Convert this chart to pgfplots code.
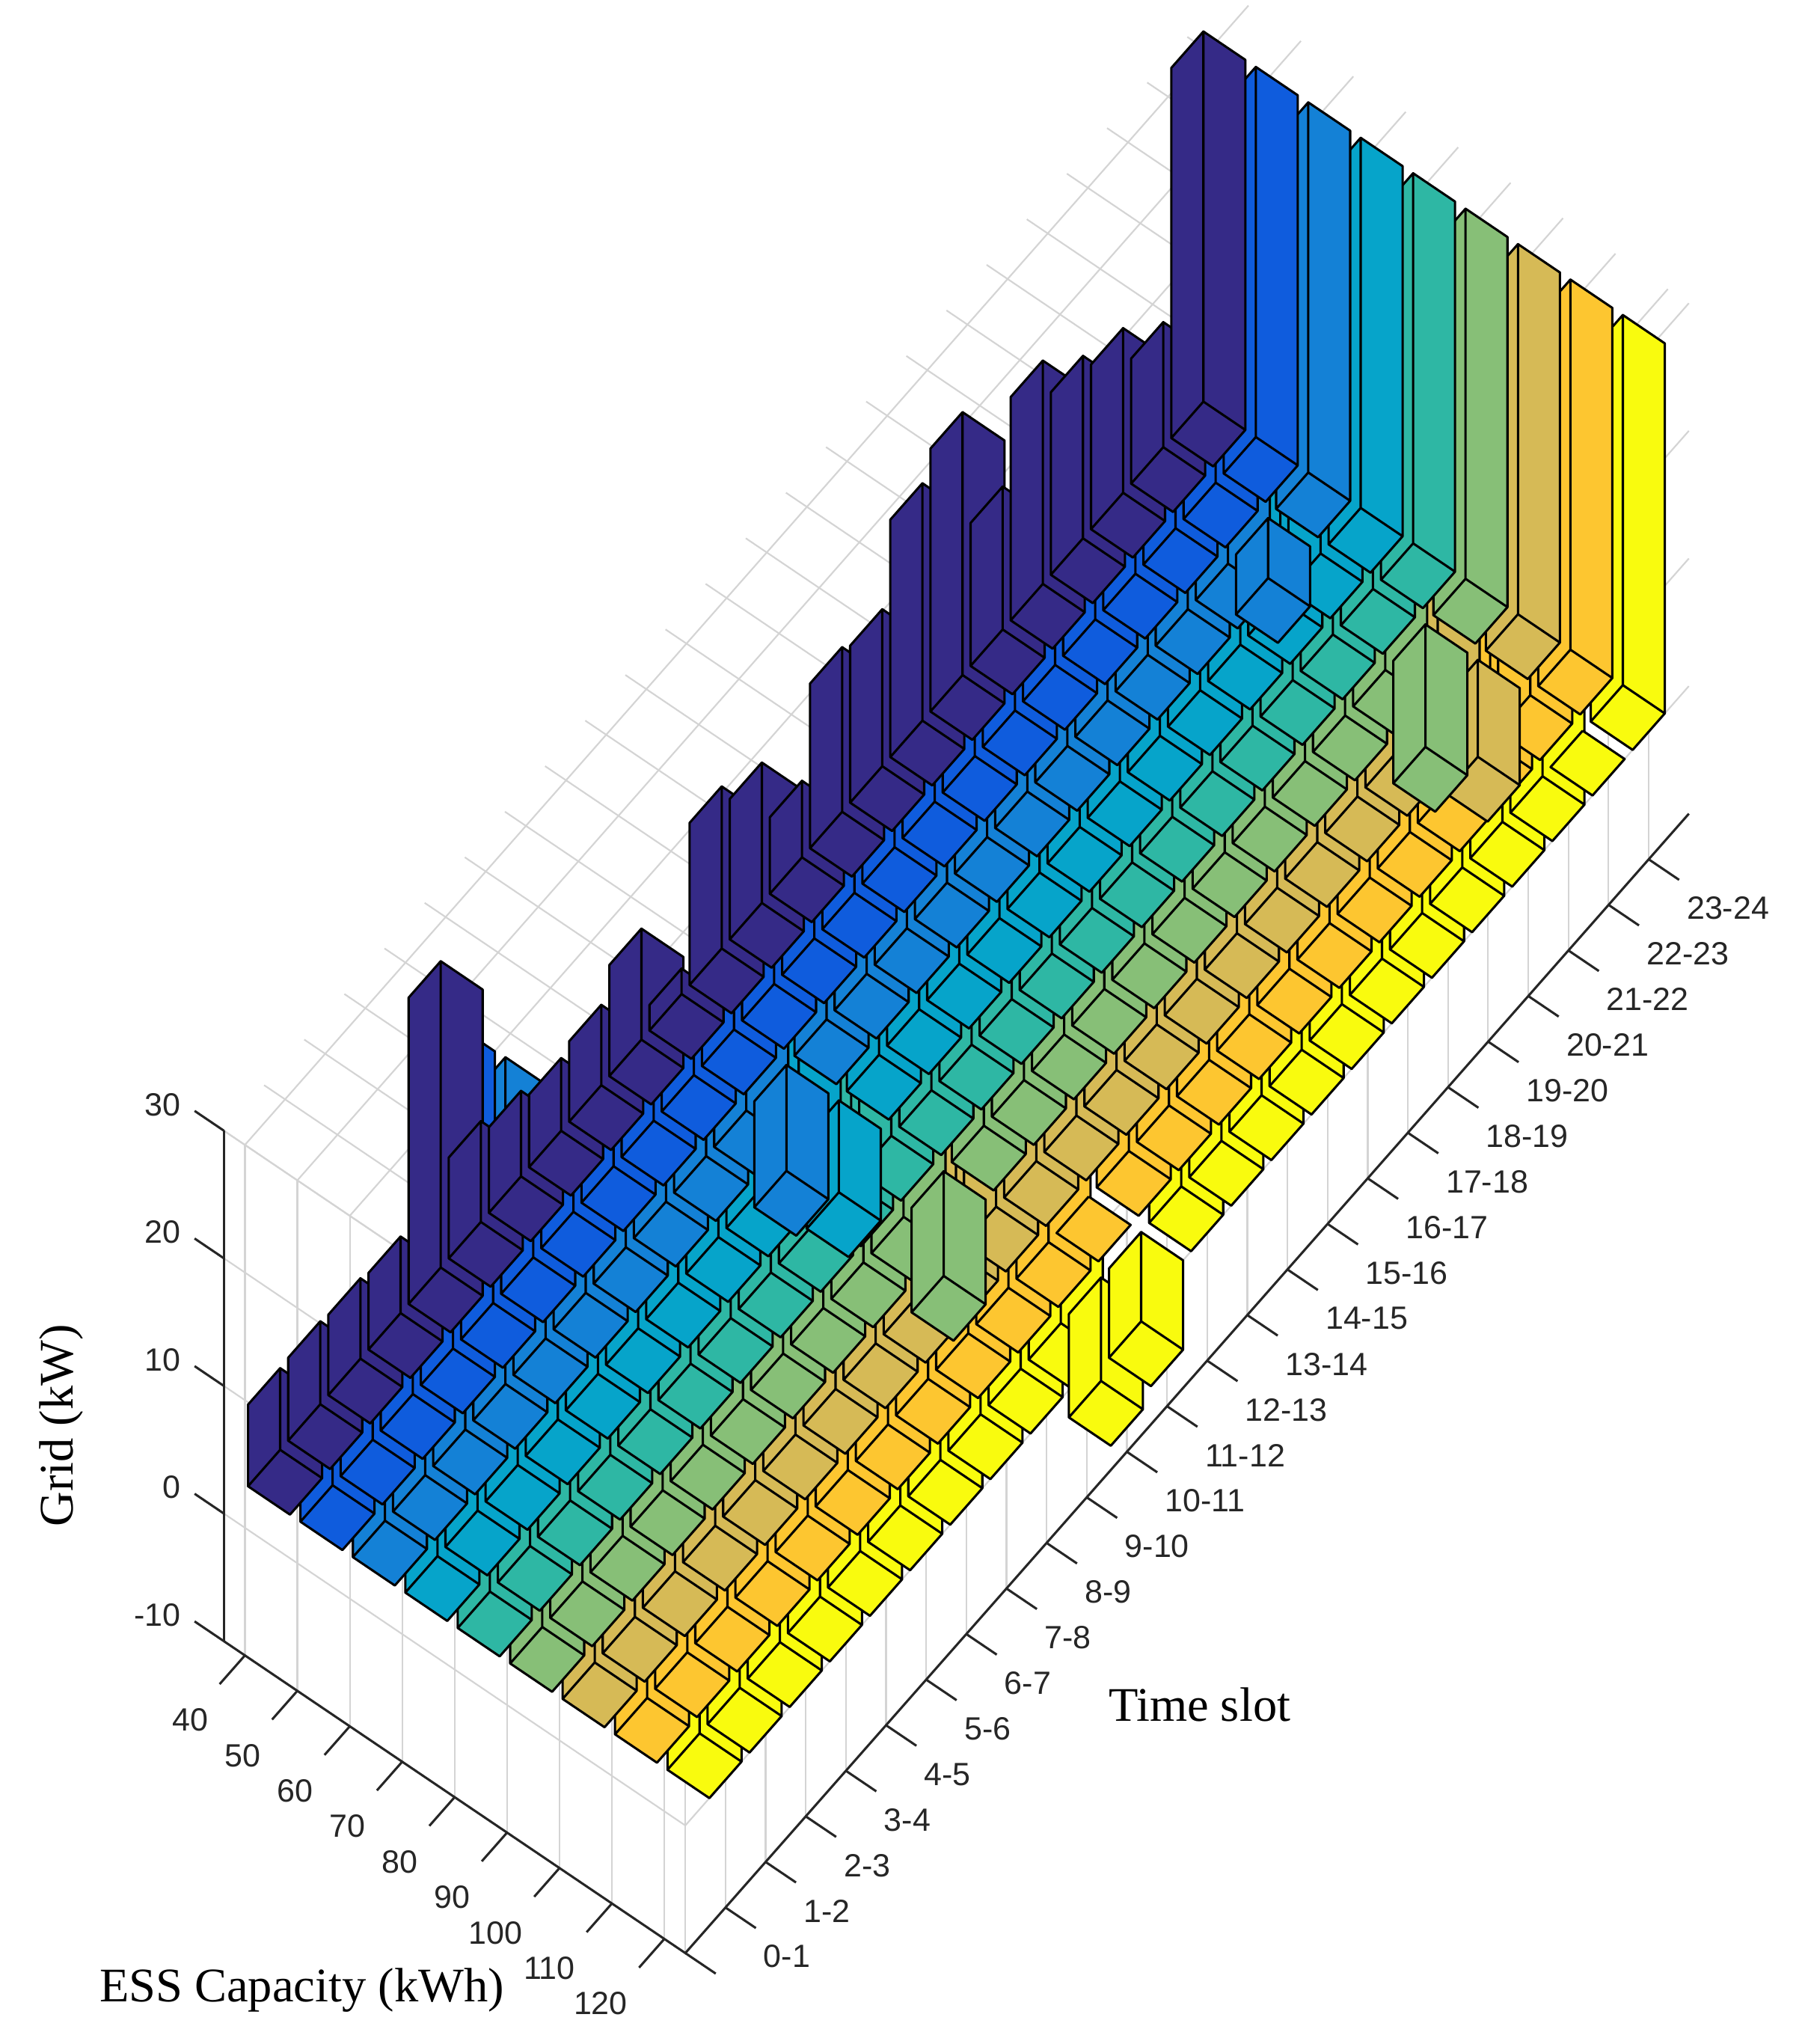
\documentclass[border=0pt]{standalone}
\usepackage{fontspec}
\setmainfont{Liberation Serif}
\newfontfamily\arialf{Liberation Sans}
\usepackage{pgfplots}
\usepackage{pgfplotstable}
\pgfplotsset{compat=1.18}
\usetikzlibrary{calc}

\definecolor{bc1}{RGB}{53,42,135}
\definecolor{bc2}{RGB}{15,92,221}
\definecolor{bc3}{RGB}{20,129,214}
\definecolor{bc4}{RGB}{6,164,202}
\definecolor{bc5}{RGB}{46,183,164}
\definecolor{bc6}{RGB}{135,191,119}
\definecolor{bc7}{RGB}{214,186,86}
\definecolor{bc8}{RGB}{253,198,48}
\definecolor{bc9}{RGB}{249,251,14}
\definecolor{axisgray}{RGB}{38,38,38}

% rows: time slot j (1 = 0-1 ... 24 = 23-24); columns: ESS capacity 40 ... 120 kWh
\pgfplotstableread{
j  c1   c2   c3   c4   c5   c6   c7   c8   c9
1  6.4  6    10   10   10   10   10   10   10
2  6.5  6    10   10   10   10   10   10   10
3  6.3  6    10   10   10   10   10   10   10
4  6.0  25.5 25.6 10   10   10   10   10   10
5  24.0 8    10   10   10   10   10   10   10
6  7.9  6    10   10   10   10   10   10   10
7  6.7  6    10   10   10   10   10   10   10
8  5.7  6    10   10   10   10   10   10   10
9  6.3  6    10   10   10   10   10   10   10
10 8.7  5    10   10   10   10   10   10   8.0
11 2.0  6    -8.3 -7.2 10   -8.2 10   10   -8.1
12 12.7 10   10   10   10   10   10   0    -7.0
13 11.0 8    10   10   10   10   10   10   10
14 6.0  10   10   10   10   10   10   10   10
15 12.9 10   10   10   10   10   10   10   10
16 12.3 12   10   10   10   10   10   10   10
17 18.6 14   10   10   10   10   10   10   10
18 20.6 12   10   10   10   10   10   10   10
19 11.2 12   10   10   10   10   10   10   10
20 17.5 12   10   10   10   10   10   10   10
21 14.3 10   10   10   10   10   10   10   10
22 12.9 8    10   10   10   10   10   10   10
23 9.8  10   -4.7 10   10   -9.6 -7.6 10   0
24 29.0 29.0 29.0 29.0 29.0 29.0 29.0 29.0 29.0
}\gridtable

\pgfplotsset{bar face/.style={draw=black, line width=0.5pt, line join=round,
  unbounded coords=jump, mark=none, forget plot}}

% one bar: #1 = capacity index, #2 = time-slot index, #3 = value
% (the time axis is stored mirrored, y = 25 - slot, so that the view is from below as in the original)
\newcommand\drawbar[3]{%
  \pgfmathsetmacro\xa{#1-0.4}%
  \pgfmathsetmacro\xb{#1+0.4}%
  \pgfmathsetmacro\yc{25-#2}%
  \pgfmathsetmacro\ya{\yc-0.4}%
  \pgfmathsetmacro\yb{\yc+0.4}%
  \pgfmathsetmacro\za{min(0,#3)}%
  \pgfmathsetmacro\zb{max(0,#3)}%
  \edef\tmp{\noexpand\addplot3[bar face, fill=bc#1] coordinates {%
    (\xa,\ya,\za) (\xb,\ya,\za) (\xb,\yb,\za) (\xa,\yb,\za) (\xa,\ya,\za) (nan,nan,nan)
    (\xa,\ya,\za) (\xa,\yb,\za) (\xa,\yb,\zb) (\xa,\ya,\zb) (\xa,\ya,\za) (nan,nan,nan)
    (\xa,\ya,\za) (\xb,\ya,\za) (\xb,\ya,\zb) (\xa,\ya,\zb) (\xa,\ya,\za)};}%
  \tmp
}

\tikzset{axisln/.style={draw=axisgray, line width=0.5pt}}

\begin{document}
\begin{tikzpicture}
\begin{axis}[
  x={(0.401cm,-0.271cm)}, y={(-0.307cm,-0.3485cm)}, z={(0cm,0.0976cm)},
  xmin=0.6, xmax=9.4, ymin=0, ymax=25, zmin=-10, zmax=30,
  clip=false,
  xtick={1,...,9}, xticklabels={40,50,60,70,80,90,100,110,120},
  ytick={1,...,25},
  yticklabels={{},23-24,22-23,21-22,20-21,19-20,18-19,17-18,16-17,15-16,14-15,13-14,12-13,11-12,10-11,9-10,8-9,7-8,6-7,5-6,4-5,3-4,2-3,1-2,0-1},
  ztick={-10,0,10,20,30},
  xtick pos=left, ytick pos=left, ztick pos=left,
  grid=major, grid style={draw=black!17, line width=0.35pt},
  axis line style={draw=none},
  tick align=outside, major tick length=0.28cm,
  tick style={draw=none},
  tick label style={font=\arialf\fontsize{7}{8}\selectfont, text=axisgray, inner sep=0pt},
  /pgf/number format/assume math mode=true,
  xticklabel style={anchor=north east, xshift=-0.09cm, yshift=-0.19cm},
  yticklabel style={anchor=west, xshift=0.36cm, yshift=0.13cm},
  zticklabel style={anchor=east, xshift=-0.14cm, yshift=0.41cm},
  xlabel={ESS Capacity (kWh)}, ylabel={Time slot}, zlabel={Grid (kW)},
  every axis x label/.style={at={(axis cs:5.21,29.08,-10)}, anchor=center, font=\fontsize{10.5}{12}\selectfont},
  every axis y label/.style={at={(axis cs:12.93,16.80,-10)}, anchor=center, font=\fontsize{10.5}{12}\selectfont},
  every axis z label/.style={at={(axis cs:-2.50,25,-1.7)}, anchor=center, rotate=90, font=\fontsize{10.5}{12}\selectfont},
]
\coordinate (O) at (axis cs:0.6,25,-10);
% axis lines and outward tick marks as in the original
\draw[axisln] (axis cs:0.6,25,-10) -- (axis cs:9.4,25,-10) -- (axis cs:9.4,0,-10);
\draw[axisln] (axis cs:0.6,25,-10) -- (axis cs:0.6,25,30);
\foreach \t in {1,...,9}{%
  \edef\tmp{\noexpand\draw[axisln] (axis cs:\t,25,-10) -- (axis cs:\t,25.63,-10);}\tmp}
\foreach \t in {1,...,25}{%
  \edef\tmp{\noexpand\draw[axisln] (axis cs:9.4,\t,-10) -- (axis cs:9.98,\t,-10);}\tmp}
\foreach \t in {-10,0,...,30}{%
  \edef\tmp{\noexpand\draw[axisln] (axis cs:0.6,25,\t) -- (axis cs:0.04,25,\t);}\tmp}
% bars, drawn from the farthest to the nearest
\foreach \j in {1,...,24}{%
  \foreach \i in {9,8,...,1}{%
    \pgfmathtruncatemacro\r{\j-1}%
    \pgfplotstablegetelem{\r}{c\i}\of\gridtable
    \drawbar{\i}{\j}{\pgfplotsretval}%
  }%
}
\end{axis}
\pgfresetboundingbox
\path[use as bounding box] ($(O)+(-1.713cm,12.55cm)$) rectangle ($(O)+(12.087cm,-3.08cm)$);
\end{tikzpicture}
\end{document}
